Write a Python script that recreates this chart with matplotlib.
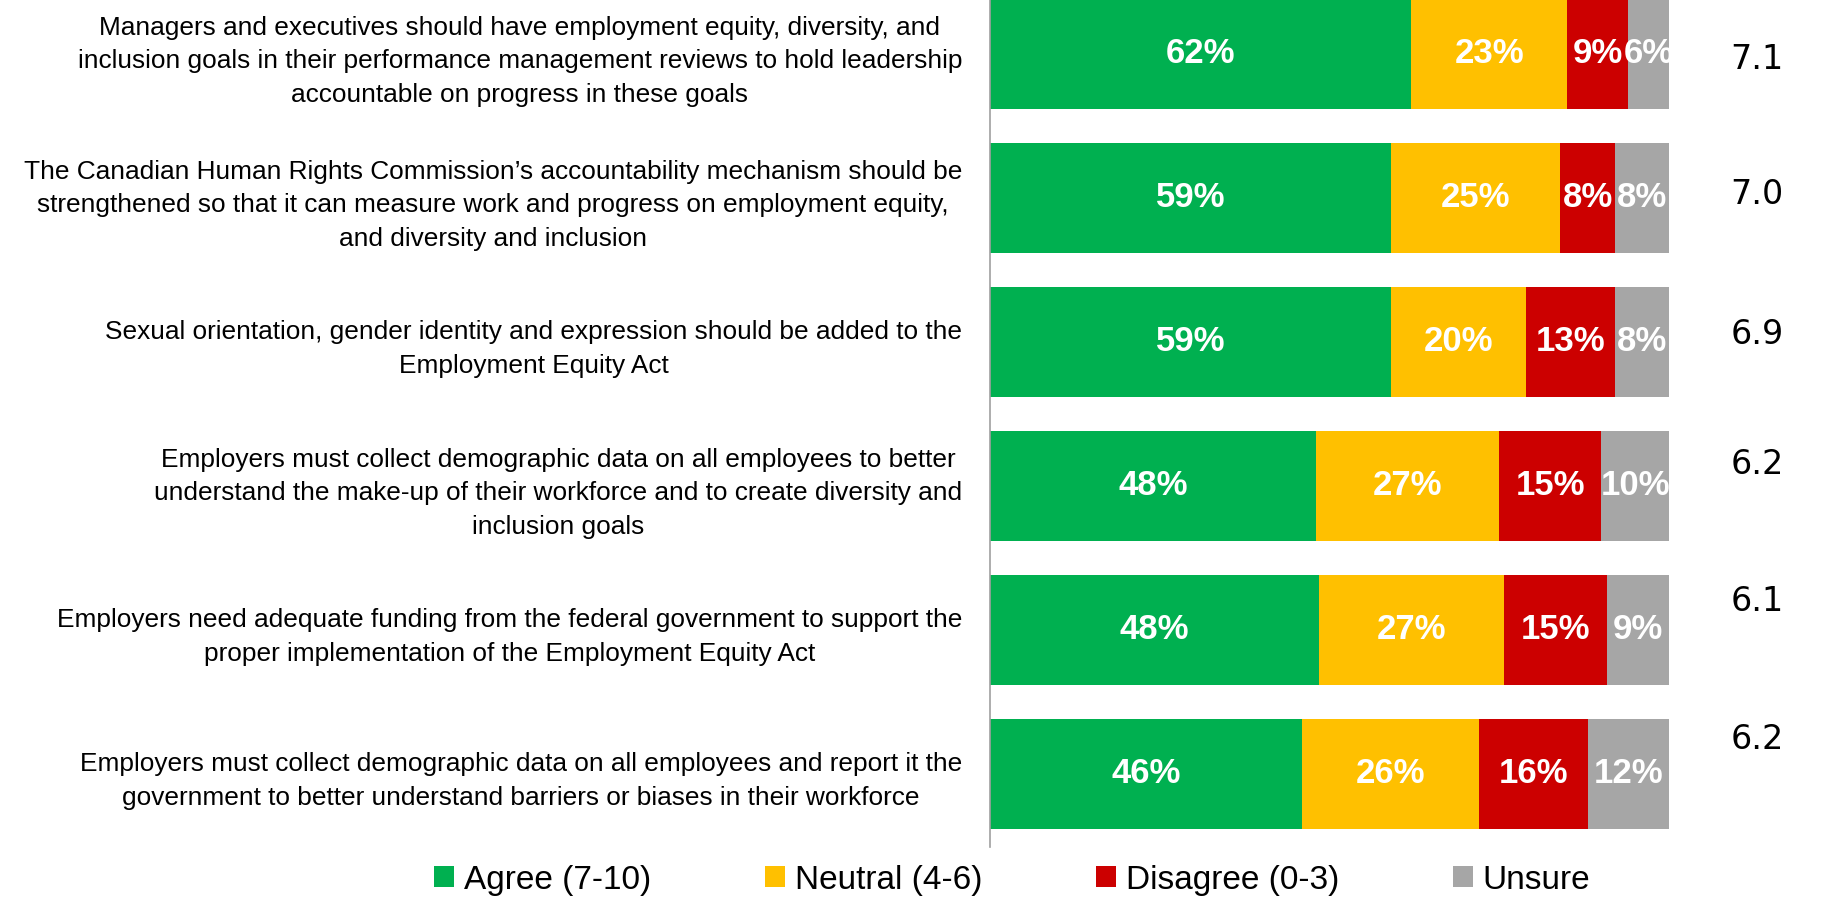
import matplotlib
matplotlib.use("Agg")
import matplotlib.pyplot as plt
from matplotlib.patches import Patch
import matplotlib.transforms as mtrans
import numpy as np

categories = [
    "Managers and executives should have employment equity, diversity, and\ninclusion goals in their performance management reviews to hold leadership\naccountable on progress in these goals",
    "The Canadian Human Rights Commission\u2019s accountability mechanism should be\nstrengthened so that it can measure work and progress on employment equity,\nand diversity and inclusion",
    "Sexual orientation, gender identity and expression should be added to the\nEmployment Equity Act",
    "Employers must collect demographic data on all employees to better\nunderstand the make-up of their workforce and to create diversity and\ninclusion goals",
    "Employers need adequate funding from the federal government to support the\nproper implementation of the Employment Equity Act",
    "Employers must collect demographic data on all employees and report it the\ngovernment to better understand barriers or biases in their workforce",
]
series_names = ["Agree (7-10)", "Neutral (4-6)", "Disagree (0-3)", "Unsure"]
agree = [62, 59, 59, 48, 48, 46]
neutral = [23, 25, 20, 27, 27, 26]
disagree = [9, 8, 13, 15, 15, 16]
unsure = [6, 8, 8, 10, 9, 12]
mean_scores = ["7.1", "7.0", "6.9", "6.2", "6.1", "6.2"]

colors = ["#00B050", "#FFC000", "#CC0000", "#A6A6A6"]
score_offsets_px = [6, -3, -7, -21, -28, -34]

FONT = ["Liberation Sans", "DejaVu Sans"]
plt.rcParams["font.family"] = FONT

fig = plt.figure(figsize=(18.24, 8.98), dpi=100)
ax = fig.add_axes([990 / 1824, 1 - 847 / 898, 679 / 1824, 847 / 898])

data = np.array([agree, neutral, disagree, unsure], dtype=float)
totals = data.sum(axis=0)
pct = data / totals * 100
y = np.arange(len(categories))
left = np.zeros(len(categories))
for i, name in enumerate(series_names):
    bars = ax.barh(y, pct[i], left=left, height=0.764, color=colors[i], label=name)
    for j, b in enumerate(bars):
        ax.text(left[j] + pct[i][j] / 2, y[j], f"{int(data[i][j])}%",
                ha="center", va="center", color="white", fontsize=25,
                fontweight="bold", family=FONT)
    left += pct[i]

ax.set_xlim(0, 100)
ax.set_ylim(5.507, -0.375)
ax.set_yticks(y)
ax.set_yticklabels(categories, fontsize=18.9, linespacing=1.5)
for t in ax.get_yticklabels():
    t.set_multialignment("center")
ax.tick_params(axis="y", length=0, pad=20)
ax.tick_params(axis="x", bottom=False, labelbottom=False)
for s in ["top", "right", "bottom"]:
    ax.spines[s].set_visible(False)
ax.spines["left"].set_color("#A0A0A0")
ax.spines["left"].set_linewidth(1.2)

for j, s in enumerate(mean_scores):
    tr = mtrans.offset_copy(ax.get_yaxis_transform(), fig=fig, x=0, y=-score_offsets_px[j], units="dots")
    ax.text(1.13, y[j], s, transform=tr, ha="center", va="center",
            fontsize=24, family=["DejaVu Sans"], color="black")

handles = [Patch(facecolor=c, edgecolor="none") for c in colors]
fig.legend(handles, series_names, loc="center", bbox_to_anchor=(0.555, 0.02),
           ncol=4, frameon=False, fontsize=24, handlelength=0.6, handleheight=0.6,
           handletextpad=0.3, columnspacing=3.4, borderaxespad=0)

fig.savefig("out.png", dpi=100)
